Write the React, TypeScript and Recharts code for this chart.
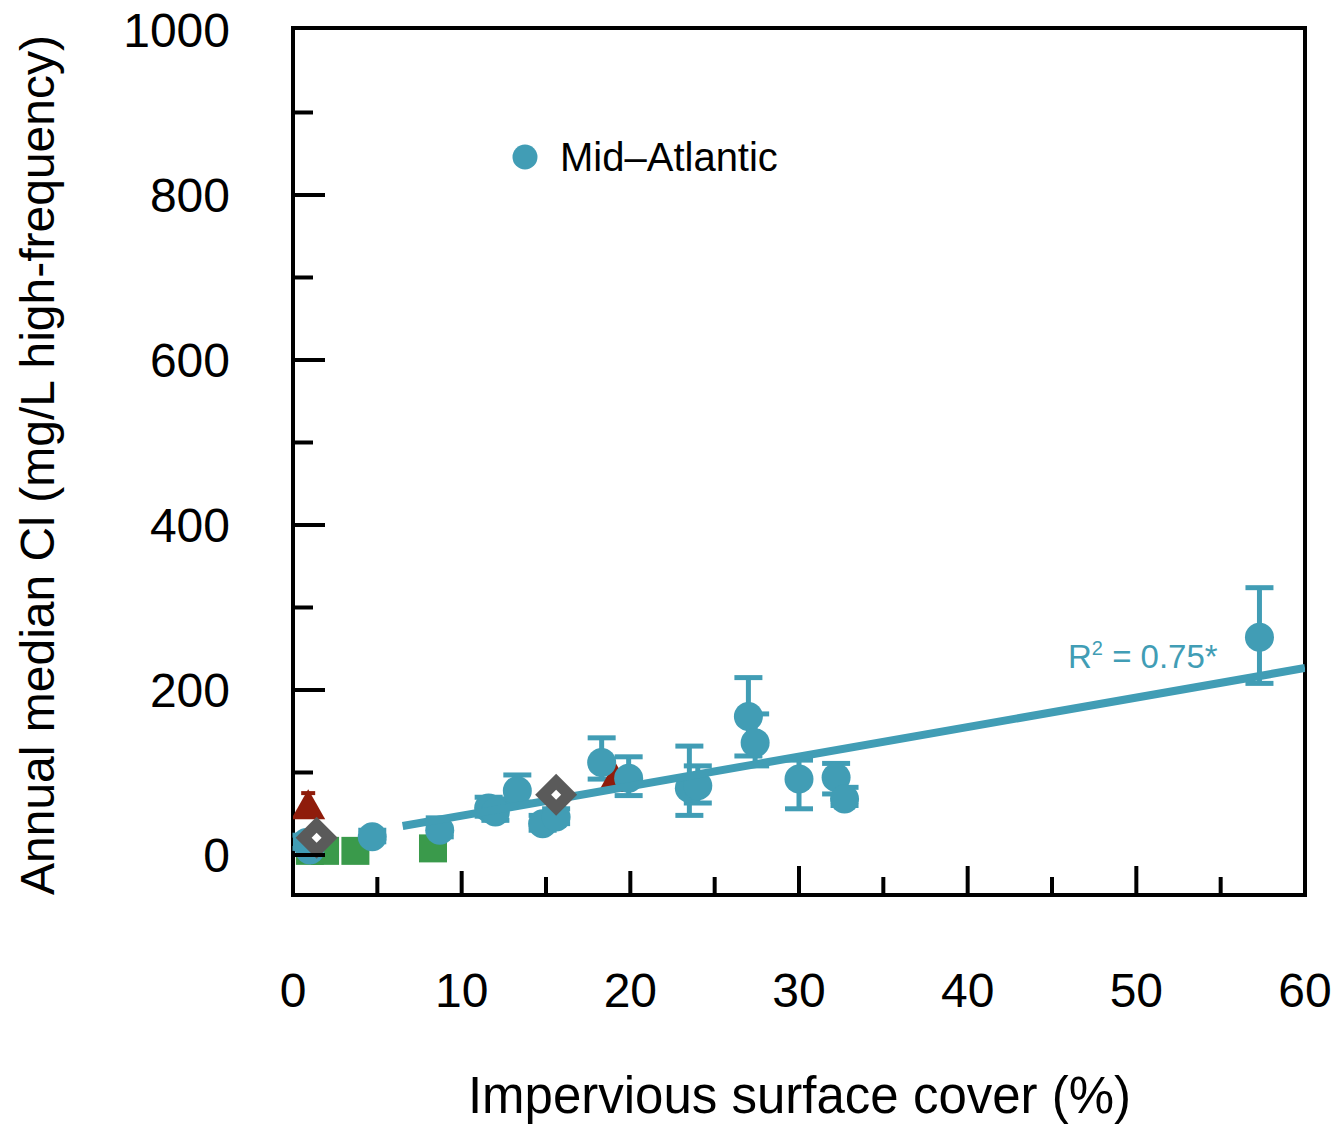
import React from 'react'
import { ScatterChart, Scatter, XAxis, YAxis, ErrorBar, ReferenceArea } from 'recharts'

const blue = '#419db5'
const red = '#8f1c0b'
const green = '#3a9a4b'
const gray = '#5a5a5a'
const font = '"Liberation Sans", Arial, Helvetica, sans-serif'

// Mid-Atlantic sites: impervious cover (%), median Cl and the error bar ends (mg/L)
const midAtlanticX = [57.3, 27.0, 27.4, 30.0, 32.2, 32.7, 23.5, 24.0, 19.9, 18.3, 13.3, 11.6, 12.0, 14.8, 15.6, 8.7, 4.7, 0.8, 1.0]
const midAtlanticY = [264, 168, 136, 92, 94, 68, 81, 84, 93, 112, 78, 57, 52, 38, 46, 30, 22, 15, 6]
const midAtlanticLow = [208, 120, 108, 56, 74, 60, 48, 63, 72, 92, 64, 47, 42, 30, 38, 22, 16, 8, 0]
const midAtlanticHigh = [324, 215, 171, 115, 111, 82, 132, 108, 119, 142, 97, 70, 68, 48, 56, 45, 30, 24, 12]

// other regions, mostly hidden behind the Mid-Atlantic points
const redX = [0.9, 19.1]
const redY = [58, 91]
const redLow = [50, 85]
const redHigh = [75, 99]
const greenX = [1.0, 1.9, 3.7, 8.3]
const greenY = [5, 5, 5, 8]
const grayX = [1.4, 15.6]
const grayY = [21, 73]

// linear fit for Mid-Atlantic
const fitSlope = 3.58
const fitIntercept = 11.8
const fitFrom = 6.5
const fitTo = 60

const xTicks = [0, 5, 10, 15, 20, 25, 30, 35, 40, 45, 50, 55, 60]
const xLabels = [0, 10, 20, 30, 40, 50, 60]
const yTicks = [0, 100, 200, 300, 400, 500, 600, 700, 800, 900, 1000]
const yLabels = [0, 200, 400, 600, 800, 1000]
const xDomain = [0, 60]
const yDomain = [-48.5, 1002.4]

const midAtlantic = midAtlanticX.map((x, i) => ({
  x,
  y: midAtlanticY[i],
  err: [midAtlanticY[i] - midAtlanticLow[i], midAtlanticHigh[i] - midAtlanticY[i]],
}))
const redData = redX.map((x, i) => ({ x, y: redY[i], err: [redY[i] - redLow[i], redHigh[i] - redY[i]] }))
const greenData = greenX.map((x, i) => ({ x, y: greenY[i] }))
const grayData = grayX.map((x, i) => ({ x, y: grayY[i] }))
const fitLine = [fitFrom, fitTo].map((x) => ({ x, y: fitIntercept + fitSlope * x }))

function XTick(props: any) {
  const { x, y, payload } = props
  const v = payload.value
  const major = xLabels.includes(v)
  const len = !major ? 18 : v <= 20 ? 24 : 29
  return (
    <g>
      {v > 0 && v < 60 && <line x1={x} x2={x} y1={y} y2={y - len} stroke="#000" strokeWidth={4} />}
      {major && (
        <text x={x} y={y + 112} textAnchor="middle" fontSize={48} fontFamily={font} fill="#000">
          {v}
        </text>
      )}
    </g>
  )
}

function YTick(props: any) {
  const { x, y, payload } = props
  const v = payload.value
  const major = yLabels.includes(v)
  return (
    <g>
      {v < 1000 && <line x1={x} x2={x + (major ? 32 : 20)} y1={y} y2={y} stroke="#000" strokeWidth={4} />}
      {major && (
        <text x={x - 63} y={y + 17} textAnchor="end" fontSize={48} fontFamily={font} fill="#000">
          {v}
        </text>
      )}
    </g>
  )
}

const Dot = (p: any) => <circle cx={p.cx} cy={p.cy} r={14.5} fill={blue} />
const Tri = (p: any) => (
  <polygon points={`${p.cx},${p.cy - 18} ${p.cx - 17},${p.cy + 12} ${p.cx + 17},${p.cy + 12}`} fill={red} />
)
const Sq = (p: any) => <rect x={p.cx - 14} y={p.cy - 14} width={28} height={28} fill={green} />
const Diamond = (p: any) => (
  <g>
    <polygon points={`${p.cx},${p.cy - 21} ${p.cx + 21},${p.cy} ${p.cx},${p.cy + 21} ${p.cx - 21},${p.cy}`} fill={gray} />
    <polygon points={`${p.cx},${p.cy - 5} ${p.cx + 5},${p.cy} ${p.cx},${p.cy + 5} ${p.cx - 5},${p.cy}`} fill="#fff" />
  </g>
)

export default function App() {
  return (
    <div style={{ position: 'absolute', left: 0, top: 0, width: 1339, height: 1125, background: '#fff' }}>
      <ScatterChart width={1339} height={1125} margin={{ top: 28, right: 34, left: 0, bottom: 0 }}>
        <XAxis
          type="number"
          dataKey="x"
          domain={xDomain}
          ticks={xTicks}
          interval={0}
          height={230}
          axisLine={false}
          tickLine={false}
          tickSize={0}
          tickMargin={0}
          tick={<XTick />}
          allowDataOverflow
        />
        <YAxis
          type="number"
          dataKey="y"
          domain={yDomain}
          ticks={yTicks}
          interval={0}
          width={293}
          axisLine={false}
          tickLine={false}
          tickSize={0}
          tickMargin={0}
          tick={<YTick />}
          allowDataOverflow
        />
        <Scatter data={greenData} shape={Sq} isAnimationActive={false} />
        <Scatter data={redData} shape={Tri} isAnimationActive={false}>
          <ErrorBar dataKey="err" direction="y" width={7} strokeWidth={4} stroke={red} isAnimationActive={false} />
        </Scatter>
        <Scatter data={midAtlantic} shape={Dot} isAnimationActive={false}>
          <ErrorBar dataKey="err" direction="y" width={14} strokeWidth={5} stroke={blue} isAnimationActive={false} />
        </Scatter>
        <Scatter
          data={fitLine}
          line={{ stroke: blue, strokeWidth: 8 }}
          shape={() => <g />}
          isAnimationActive={false}
        />
        <Scatter data={grayData} shape={Diamond} isAnimationActive={false} />
        <ReferenceArea
          x1={xDomain[0]}
          x2={xDomain[1]}
          y1={yDomain[0]}
          y2={yDomain[1]}
          fill="none"
          fillOpacity={0}
          stroke="#000"
          strokeWidth={4}
          ifOverflow="visible"
        />
      </ScatterChart>
      <svg
        width={1339}
        height={1125}
        style={{ position: 'absolute', left: 0, top: 0, pointerEvents: 'none' }}
        fontFamily={font}
      >
        <text x={54} y={465} transform="rotate(-90, 54, 465)" textAnchor="middle" fontSize={48} fill="#000">
          Annual median Cl (mg/L high-frequency)
        </text>
        <text x={799.5} y={1113} textAnchor="middle" fontSize={51} fill="#000">
          Impervious surface cover (%)
        </text>
        <circle cx={525} cy={157} r={12.5} fill={blue} />
        <text x={560} y={171} fontSize={40} fill="#000">
          Mid–Atlantic
        </text>
        <text x={1068} y={668} fontSize={33} fill={blue}>
          R<tspan fontSize={20} dy={-13}>2</tspan>
          <tspan dy={13}> = 0.75*</tspan>
        </text>
      </svg>
    </div>
  )
}
